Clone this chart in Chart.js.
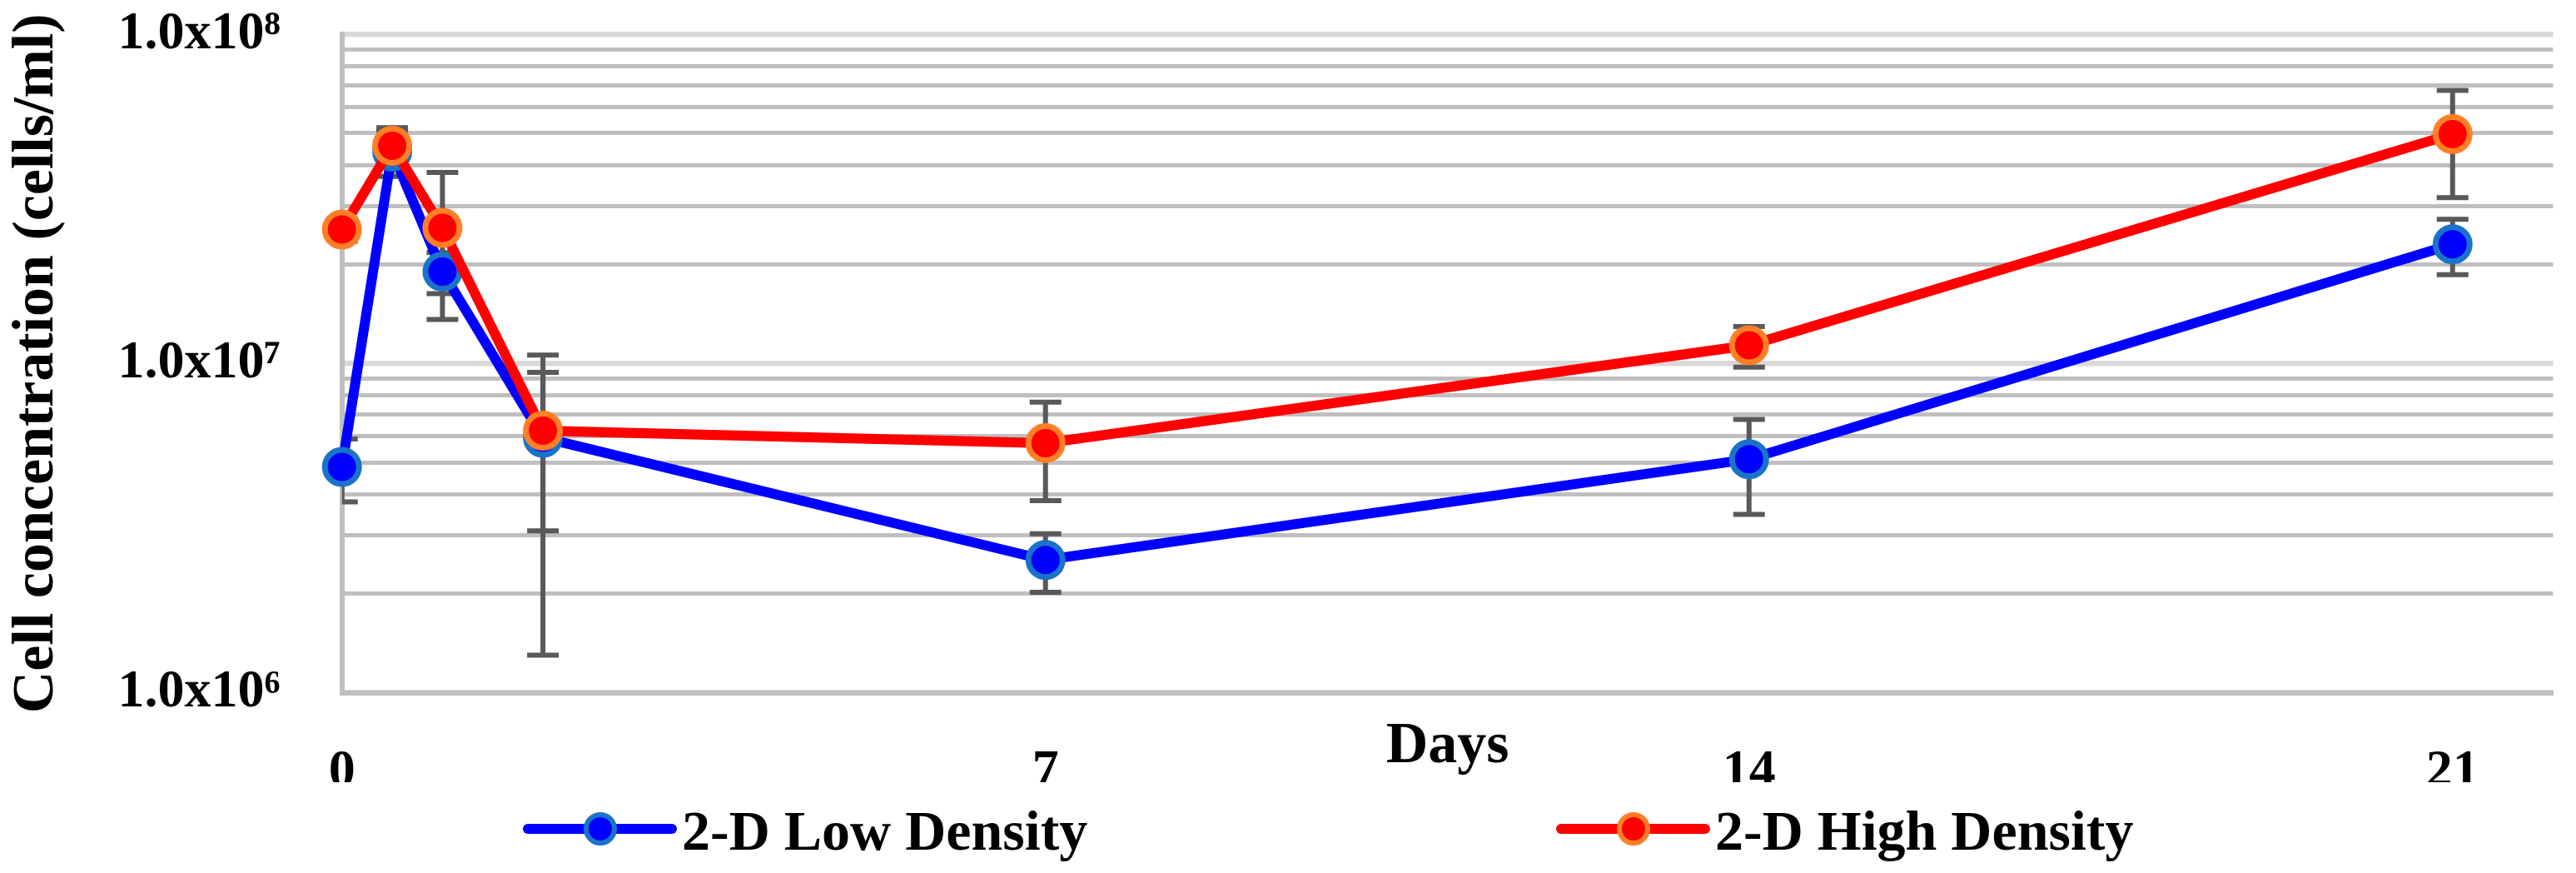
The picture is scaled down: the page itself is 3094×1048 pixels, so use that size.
<!DOCTYPE html>
<html>
<head>
<meta charset="utf-8">
<script src="https://cdn.jsdelivr.net/npm/chart.js@4.4.1/dist/chart.umd.min.js"></script>
<style>
html,body{margin:0;padding:0;background:#fff;}
#wrap{width:3094px;height:1048px;position:relative;}
</style>
</head>
<body>
<div id="wrap"><canvas id="chart"></canvas></div>
<script>
// ====== DATA ======
const DAYS = [0, 0.5, 1, 2, 7, 14, 21];
const LOW_MEAN  = [4.85e6, 4.4e7, 1.9e7, 5.95e6, 2.53e6, 5.12e6, 2.3e7];
const LOW_ERR   = [1.05e6, 0.7e7, 0.27e7, 4.65e6, 0.51e6, 1.64e6, 0.44e7];
const HIGH_MEAN = [2.55e7, 4.58e7, 2.58e7, 6.25e6, 5.73e6, 1.135e7, 4.97e7];
const HIGH_ERR  = [2.0e6, 0.62e7, 1.22e7, 3.15e6, 1.9e6, 1.6e6, 1.78e7];
const SERIES_NAMES = ['2-D Low Density', '2-D High Density'];
const X_TICKS = [0, 7, 14, 21];
const Y_GRID = [1e6,2e6,3e6,4e6,5e6,6e6,7e6,8e6,9e6,1e7,2e7,3e7,4e7,5e7,6e7,7e7,8e7,9e7,1e8];
const Y_MAJOR = [1e6, 1e7, 1e8];
const Y_MAJOR_LABELS = ['1.0x10\u2076', '1.0x10\u2077', '1.0x10\u2078'];

// ====== STYLE ======
const FONT = '"Liberation Serif", "Times New Roman", serif';
const ERR_COLOR = '#595959';

function pts(means){ return DAYS.map((d,i)=>({x:d, y:means[i]})); }

// error bars, drawn under the lines and markers
const errorBars = {
  id:'errorBars',
  beforeDatasetsDraw(chart){
    const {ctx, chartArea:a, scales:{x, y}} = chart;
    ctx.save();
    ctx.beginPath(); ctx.rect(a.left, a.top, a.right-a.left, a.bottom-a.top); ctx.clip();
    ctx.strokeStyle = ERR_COLOR; ctx.lineWidth = 6; ctx.lineCap = 'butt';
    chart.data.datasets.forEach(ds=>{
      ds.data.forEach((p,i)=>{
        const e = ds.errors[i];
        const px = x.getPixelForValue(p.x);
        const top = y.getPixelForValue(p.y+e);
        const bot = y.getPixelForValue(Math.max(p.y-e, 1));
        ctx.beginPath();
        ctx.moveTo(px, top); ctx.lineTo(px, bot);
        ctx.moveTo(px-19, top); ctx.lineTo(px+19, top);
        ctx.moveTo(px-19, bot); ctx.lineTo(px+19, bot);
        ctx.stroke();
      });
    });
    ctx.restore();
  }
};

// legend under the plot, items spaced out as in the original
const bottomLegend = {
  id:'bottomLegend',
  afterDraw(chart){
    const ctx = chart.ctx;
    const starts = [634, 1875];
    const cy = 995;
    ctx.save();
    chart.data.datasets.forEach((ds,i)=>{
      const x0 = starts[i];
      ctx.strokeStyle = ds.borderColor; ctx.lineWidth = 12; ctx.lineCap = 'round';
      ctx.beginPath(); ctx.moveTo(x0, cy); ctx.lineTo(x0+173, cy); ctx.stroke();
      ctx.beginPath(); ctx.arc(x0+87, cy, 17, 0, Math.PI*2);
      ctx.fillStyle = ds.pointBackgroundColor; ctx.fill();
      ctx.lineWidth = 6; ctx.strokeStyle = ds.pointBorderColor; ctx.stroke();
      ctx.fillStyle = '#000'; ctx.font = 'bold 68px ' + FONT;
      ctx.textAlign = 'left'; ctx.textBaseline = 'alphabetic';
      ctx.fillText(ds.label, x0+185, 1020);
    });
    ctx.restore();
  }
};

new Chart(document.getElementById('chart'), {
  type:'line',
  data:{
    datasets:[
      {label:SERIES_NAMES[0], data:pts(LOW_MEAN), errors:LOW_ERR, order:2,
       borderColor:'#0000ff', borderWidth:12, pointRadius:20.5, pointBorderWidth:7,
       pointBackgroundColor:'#0000ff', pointBorderColor:'#1a73c9', tension:0, clip:false},
      {label:SERIES_NAMES[1], data:pts(HIGH_MEAN), errors:HIGH_ERR, order:1,
       borderColor:'#ff0000', borderWidth:12, pointRadius:20.5, pointBorderWidth:7,
       pointBackgroundColor:'#ff0000', pointBorderColor:'#ff7f27', tension:0, clip:false}
    ]
  },
  options:{
    responsive:true, maintainAspectRatio:false, animation:false, devicePixelRatio:1,
    layout:{padding:{left:0, right:26, top:41, bottom:109}},
    plugins:{legend:{display:false}, tooltip:{enabled:false}},
    scales:{
      x:{
        type:'linear', min:0, max:22,
        afterBuildTicks:s=>{ s.ticks = X_TICKS.map(v=>({value:v})); },
        afterFit:s=>{ s.height = 107.4; },
        grid:{display:true, color:'rgba(0,0,0,0)', drawTicks:false},
        border:{display:true, color:'#bfbfbf', width:6},
        ticks:{padding:57, color:'#000', font:{family:FONT, size:64, weight:'bold'}},
        title:{display:true, text:'Days', color:'#000', padding:0, font:{family:FONT, size:70, weight:'bold'}}
      },
      y:{
        type:'logarithmic', min:1e6, max:1e8,
        afterBuildTicks:s=>{ s.ticks = Y_GRID.map(v=>({value:v})); },
        afterFit:s=>{ s.width = 410.7; },
        grid:{drawTicks:true, tickLength:74, tickColor:'rgba(0,0,0,0)',
              lineWidth:c=>Y_MAJOR.includes(c.tick.value)?6.5:5,
              color:c=>Y_MAJOR.includes(c.tick.value)?'#d9d9d9':'#bfbfbf'},
        border:{display:true, color:'#bfbfbf', width:6},
        ticks:{padding:0, autoSkip:false, color:'#000', font:{family:FONT, size:64, weight:'bold'},
               callback:v=>{ const k = Y_MAJOR.indexOf(v); return k<0 ? '' : Y_MAJOR_LABELS[k]; }},
        title:{display:true, text:'Cell concentration (cells/ml)', color:'#000', padding:{top:3, bottom:0},
               font:{family:FONT, size:70, weight:'bold'}}
      }
    }
  },
  plugins:[errorBars, bottomLegend]
});
</script>
</body>
</html>
